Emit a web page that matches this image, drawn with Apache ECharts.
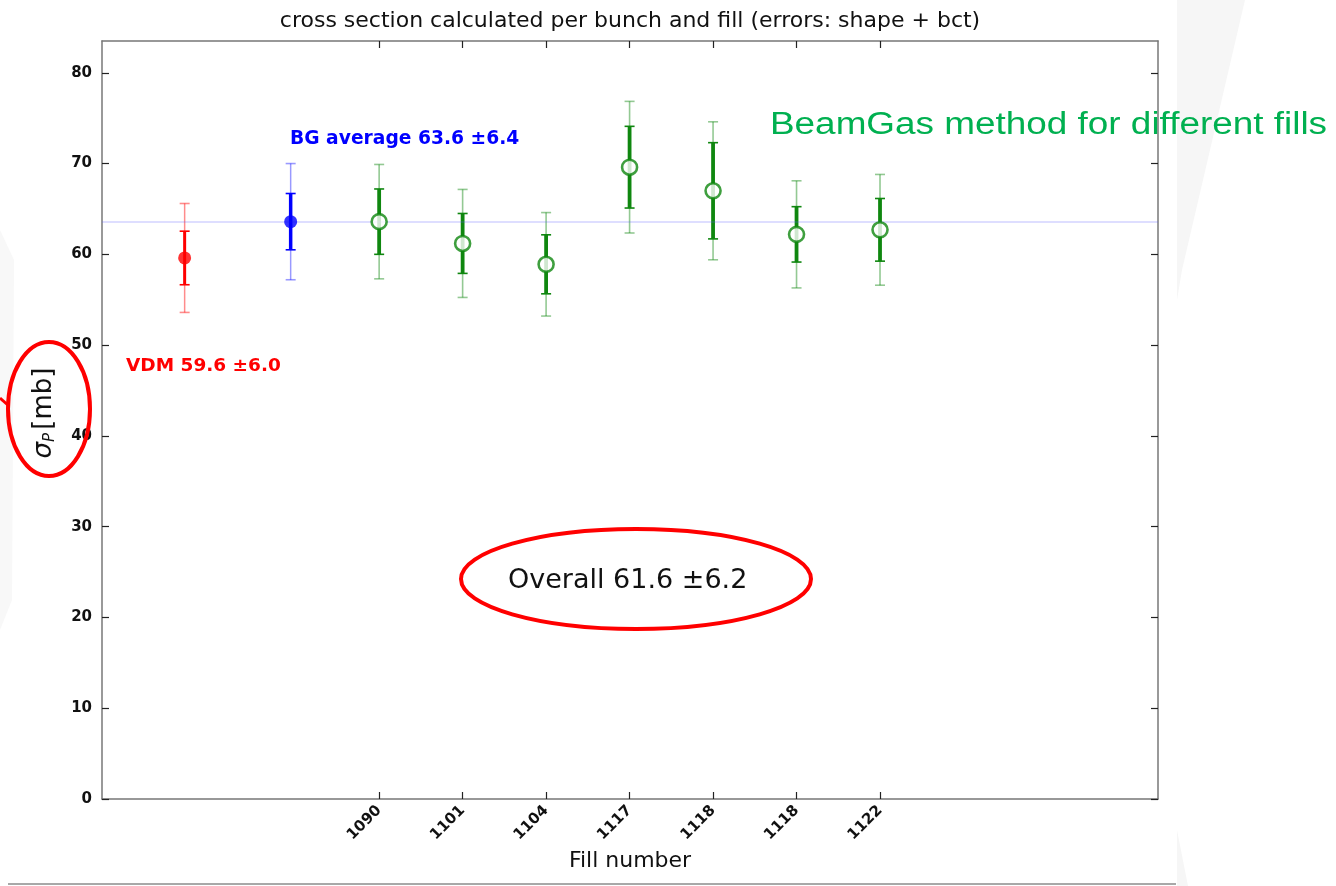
<!DOCTYPE html>
<html>
<head>
<meta charset="utf-8">
<script src="https://cdn.jsdelivr.net/npm/echarts@6/dist/echarts.min.js"></script>
<style>
  html, body { margin: 0; padding: 0; background: #ffffff; }
  #chart { width: 1336px; height: 886px; }
</style>
</head>
<body>
<div id="chart"></div>
<script>
// Fill numbers shown on the x axis (one BeamGas measurement per fill)
const fillLabels = ['1090', '1101', '1104', '1117', '1118', '1118', '1122'];
const fillPos = [0, 1, 2, 3, 4, 5, 6];
const fillValues = [63.6, 61.2, 58.9, 69.6, 67.0, 62.2, 62.7];
const fillErrShape = [3.6, 3.3, 3.25, 4.5, 5.3, 3.05, 3.45];   // inner (shape) error
const fillErrTotal = [6.3, 5.95, 5.7, 7.25, 7.6, 5.9, 6.1];    // outer (shape + bct) error

// Van der Meer reference point
const vdmPos = [-2.33];
const vdmValues = [59.6];
const vdmErrShape = [2.95];
const vdmErrTotal = [6.0];

// BeamGas average over all fills
const bgPos = [-1.06];
const bgValues = [63.6];
const bgErrShape = [3.1];
const bgErrTotal = [6.4];

// Combined result
const overallValue = [61.6];
const overallErr = [6.2];

const yTicks = [0, 10, 20, 30, 40, 50, 60, 70, 80];
const X_MIN = -3.32, X_MAX = 9.33, Y_MAX = 83.5;

const FONT = 'DejaVu Sans';

function errorBars(xs, vals, errs, color, lineWidth, opacity, z) {
  return {
    type: 'custom',
    z: z,
    silent: true,
    data: xs.map((x, i) => [x, vals[i] - errs[i], vals[i] + errs[i]]),
    renderItem: function (params, api) {
      const x = api.value(0);
      const lo = api.coord([x, api.value(1)]);
      const hi = api.coord([x, api.value(2)]);
      const cap = 5;
      const st = { stroke: color, lineWidth: lineWidth, opacity: opacity };
      const capSt = { stroke: color, lineWidth: 1.6, opacity: opacity };
      return {
        type: 'group',
        children: [
          { type: 'line', shape: { x1: lo[0], y1: lo[1], x2: hi[0], y2: hi[1] }, style: st },
          { type: 'line', shape: { x1: lo[0] - cap, y1: lo[1], x2: lo[0] + cap, y2: lo[1] }, style: capSt },
          { type: 'line', shape: { x1: hi[0] - cap, y1: hi[1], x2: hi[0] + cap, y2: hi[1] }, style: capSt }
        ]
      };
    }
  };
}

function points(xs, vals, color, hollow) {
  return {
    type: 'scatter',
    z: 10,
    silent: true,
    symbol: 'circle',
    symbolSize: hollow ? 15 : 13,
    data: xs.map((x, i) => [x, vals[i]]),
    itemStyle: hollow
      ? { color: '#ffffff', borderColor: color, borderWidth: 2.6 }
      : { color: color, borderWidth: 0 }
  };
}

const GREEN = '#0f870f';
const RED = '#ff0000';
const BLUE = '#0000ff';

const chart = echarts.init(document.getElementById('chart'), null, { renderer: 'canvas' });

const tickStyle = { show: true, inside: true, length: 7, lineStyle: { color: '#222', width: 1.2 } };
const frameLine = { show: true, onZero: false, lineStyle: { color: '#777', width: 1.5 } };

chart.setOption({
  animation: false,
  backgroundColor: '#ffffff',
  grid: { left: 102, right: 178, top: 41, bottom: 87, containLabel: false },
  xAxis: [
    {
      type: 'value', min: X_MIN, max: X_MAX, position: 'bottom',
      axisLine: frameLine,
      axisTick: Object.assign({}, tickStyle, { customValues: fillPos }),
      axisLabel: {
        customValues: fillPos,
        rotate: 45, margin: 9,
        fontFamily: FONT, fontSize: 15, fontWeight: 'bold', color: '#111',
        formatter: v => fillLabels[fillPos.indexOf(Math.round(v))] || ''
      },
      splitLine: { show: false },
      name: 'Fill number', nameLocation: 'middle', nameGap: 51,
      nameTextStyle: { fontFamily: FONT, fontSize: 22, color: '#111' }
    },
    {
      type: 'value', min: X_MIN, max: X_MAX, position: 'top',
      axisLine: frameLine,
      axisTick: Object.assign({}, tickStyle, { customValues: fillPos }),
      axisLabel: { show: false },
      splitLine: { show: false }
    }
  ],
  yAxis: [
    {
      type: 'value', min: 0, max: Y_MAX, interval: 10, position: 'left',
      axisLine: frameLine,
      axisTick: Object.assign({}, tickStyle, { customValues: yTicks }),
      axisLabel: {
        customValues: yTicks,
        fontFamily: FONT, fontSize: 15, fontWeight: 'bold', color: '#111', margin: 10
      },
      splitLine: { show: false }
    },
    {
      type: 'value', min: 0, max: Y_MAX, interval: 10, position: 'right',
      axisLine: frameLine,
      axisTick: Object.assign({}, tickStyle, { customValues: yTicks }),
      axisLabel: { show: false },
      splitLine: { show: false }
    }
  ],
  series: [
    // BeamGas average drawn as a faint reference line across the plot
    {
      type: 'line', data: [], silent: true,
      markLine: {
        silent: true, symbol: 'none', label: { show: false },
        lineStyle: { color: 'rgba(90,90,255,0.2)', width: 2, type: 'solid' },
        data: [{ yAxis: bgValues[0] }]
      }
    },
    errorBars(vdmPos, vdmValues, vdmErrTotal, RED, 1.5, 0.45, 3),
    errorBars(vdmPos, vdmValues, vdmErrShape, RED, 3, 1, 4),
    points(vdmPos, vdmValues, RED, false),
    errorBars(bgPos, bgValues, bgErrTotal, BLUE, 1.5, 0.4, 3),
    errorBars(bgPos, bgValues, bgErrShape, BLUE, 3.5, 1, 4),
    points(bgPos, bgValues, BLUE, false),
    errorBars(fillPos, fillValues, fillErrTotal, GREEN, 1.6, 0.45, 3),
    errorBars(fillPos, fillValues, fillErrShape, GREEN, 3.8, 1, 4),
    points(fillPos, fillValues, GREEN, true)
  ],
  graphic: [
    // faint slide-background wedges
    { type: 'polygon', z: -10, silent: true,
      shape: { points: [[1192, 0], [1245, 0], [1182, 270], [1177, 300], [1177, 0]] },
      style: { fill: '#f6f6f6' } },
    { type: 'polygon', z: -10, silent: true,
      shape: { points: [[1177, 830], [1188, 886], [1177, 886]] },
      style: { fill: '#f6f6f6' } },
    { type: 'polygon', z: -10, silent: true,
      shape: { points: [[0, 230], [14, 260], [12, 600], [0, 630]] },
      style: { fill: '#f8f8f8' } },
    // bottom rule of the slide
    { type: 'line', silent: true,
      shape: { x1: 8, y1: 884, x2: 1176, y2: 884 },
      style: { stroke: '#a8a8a8', lineWidth: 2 } },
    // title
    { type: 'text', silent: true, x: 630, y: 21,
      style: { text: 'cross section calculated per bunch and fill (errors: shape + bct)',
        font: '22px "DejaVu Sans"', fill: '#111', align: 'center', verticalAlign: 'middle' } },
    // y axis name
    { type: 'text', silent: true, x: 44, y: 413, rotation: Math.PI / 2,
      style: {
        text: '{s|σ}{p|P} {u|[mb]}',
        align: 'center', verticalAlign: 'middle',
        rich: {
          s: { font: 'italic 26px "DejaVu Sans"', fill: '#111' },
          p: { font: 'italic 15px "DejaVu Sans"', fill: '#111', padding: [12, 0, 0, 0] },
          u: { font: '26px "DejaVu Sans"', fill: '#111' }
        }
      } },
    // annotations
    { type: 'text', silent: true, x: 290, y: 139,
      style: { text: 'BG average ' + bgValues[0].toFixed(1) + ' \u00b1' + bgErrTotal[0].toFixed(1),
        font: 'bold 18.7px "DejaVu Sans"', fill: BLUE, verticalAlign: 'middle' } },
    { type: 'text', silent: true, x: 126, y: 366,
      style: { text: 'VDM ' + vdmValues[0].toFixed(1) + ' \u00b1' + vdmErrTotal[0].toFixed(1),
        font: 'bold 18.5px "DejaVu Sans"', fill: RED, verticalAlign: 'middle' } },
    { type: 'text', silent: true, x: 508, y: 581,
      style: { text: 'Overall ' + overallValue[0].toFixed(1) + ' \u00b1' + overallErr[0].toFixed(1),
        font: '27px "DejaVu Sans"', fill: '#111', verticalAlign: 'middle' } },
    { type: 'text', silent: true, x: 770, y: 125, scaleX: 1.19,
      style: { text: 'BeamGas method for different fills',
        font: '31px "Liberation Sans"', fill: '#00b050', verticalAlign: 'middle' } },
    // red highlight ellipses
    { type: 'ellipse', silent: true, z: 20,
      shape: { cx: 636, cy: 579, rx: 175, ry: 50 },
      style: { fill: 'none', stroke: '#ff0000', lineWidth: 4 } },
    { type: 'ellipse', silent: true, z: 20,
      shape: { cx: 49, cy: 409, rx: 41, ry: 67 },
      style: { fill: 'none', stroke: '#ff0000', lineWidth: 4 } },
    { type: 'line', silent: true, z: 20,
      shape: { x1: 0, y1: 398, x2: 9, y2: 406 },
      style: { stroke: '#ff0000', lineWidth: 3 } }
  ]
});
</script>
</body>
</html>
